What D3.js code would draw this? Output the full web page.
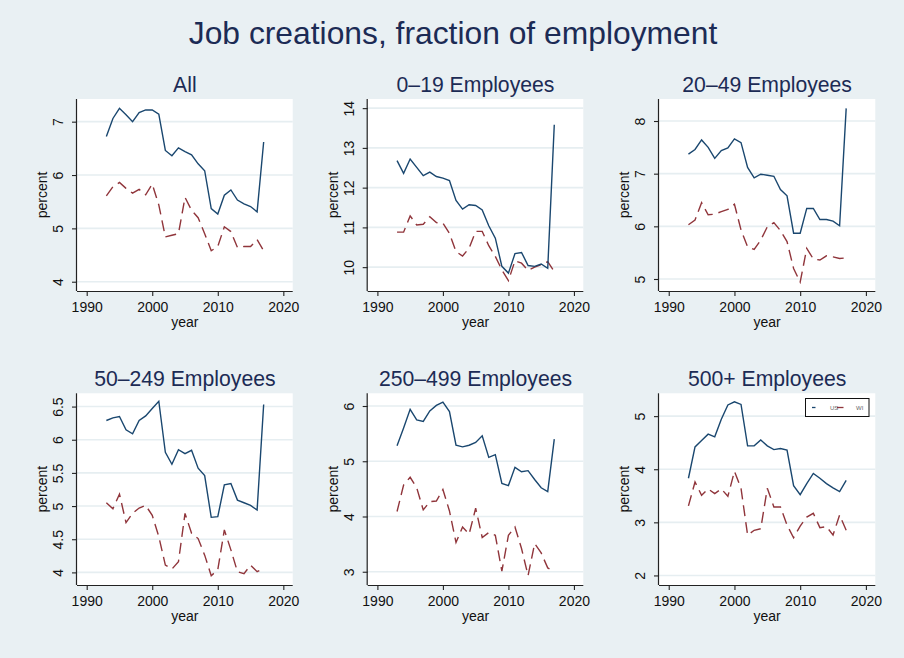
<!DOCTYPE html>
<html>
<head>
<meta charset="utf-8">
<script src="https://cdn.jsdelivr.net/npm/d3@7"></script>
<style>
  html, body { margin: 0; padding: 0; background: #e9f0f3; }
  svg { display: block; font-family: "Liberation Sans", Arial, Helvetica, sans-serif; }
</style>
</head>
<body>
<svg id="chart" width="904" height="658"></svg>
<script>
// ---------------- DATA ----------------
const chartTitle = "Job creations, fraction of employment";
const panelTitles = ["All", "0\u201319 Employees", "20\u201349 Employees", "50\u2013249 Employees", "250\u2013499 Employees", "500+ Employees"];
const seriesNames = ["US", "WI"];
const years = [1993,1994,1995,1996,1997,1998,1999,2000,2001,2002,2003,2004,2005,2006,2007,2008,2009,2010,2011,2012,2013,2014,2015,2016,2017];

const usAll  = [6.72,7.06,7.25,7.13,7.00,7.17,7.22,7.22,7.14,6.46,6.36,6.51,6.44,6.38,6.21,6.08,5.37,5.27,5.62,5.72,5.53,5.46,5.41,5.31,6.62];
const wiAll  = [5.61,5.78,5.86,5.75,5.66,5.73,5.63,5.83,5.44,4.84,4.87,4.90,5.58,5.34,5.20,4.90,4.58,4.66,5.03,4.94,4.64,4.66,4.66,4.79,4.58];

const us0_19 = [12.68,12.36,12.72,12.51,12.30,12.39,12.28,12.24,12.18,11.68,11.46,11.57,11.55,11.44,11.04,10.73,10.02,9.85,10.34,10.37,10.04,10.02,10.08,9.97,13.58];
const wi0_19 = [10.88,10.88,11.29,11.06,11.08,11.27,11.12,11.11,10.85,10.39,10.28,10.48,10.90,10.90,10.54,10.27,9.93,9.66,10.16,10.10,9.92,10.00,10.06,10.14,9.89];

const us20_49 = [7.37,7.46,7.64,7.50,7.29,7.44,7.49,7.66,7.59,7.12,6.92,6.99,6.97,6.95,6.70,6.58,5.87,5.87,6.34,6.34,6.13,6.13,6.10,6.01,8.24];
const wi20_49 = [6.03,6.12,6.45,6.22,6.23,6.28,6.32,6.42,5.93,5.61,5.56,5.74,5.99,6.07,5.92,5.71,5.20,4.94,5.58,5.38,5.36,5.44,5.42,5.39,5.40];

const us50_249 = [6.29,6.33,6.35,6.15,6.09,6.29,6.36,6.47,6.58,5.81,5.63,5.85,5.79,5.84,5.57,5.46,4.83,4.84,5.32,5.34,5.09,5.05,5.01,4.94,6.53];
const wi50_249 = [5.05,4.96,5.18,4.75,4.89,4.97,5.01,4.86,4.54,4.11,4.05,4.16,4.89,4.59,4.51,4.26,3.95,4.04,4.64,4.34,4.01,3.98,4.11,4.01,4.06];

const us250_499 = [5.28,5.60,5.94,5.75,5.72,5.91,6.01,6.07,5.90,5.29,5.26,5.29,5.34,5.46,5.07,5.12,4.60,4.56,4.89,4.81,4.83,4.67,4.52,4.45,5.40];
const wi250_499 = [4.09,4.57,4.71,4.52,4.12,4.27,4.28,4.49,4.10,3.53,3.81,3.68,4.15,3.62,3.71,3.66,3.01,3.66,3.81,3.42,2.93,3.51,3.34,3.07,3.01];

const us500 = [3.83,4.42,4.54,4.66,4.61,4.94,5.21,5.27,5.22,4.44,4.44,4.55,4.44,4.37,4.39,4.36,3.69,3.52,3.73,3.92,3.83,3.73,3.65,3.58,3.79];
const wi500 = [3.31,3.76,3.51,3.63,3.54,3.63,3.49,3.96,3.64,2.76,2.85,2.88,3.64,3.29,3.29,2.95,2.71,2.93,3.10,3.17,2.90,2.92,2.76,3.14,2.85];

const xTicks = [1990, 2000, 2010, 2020];
const yTicksAll = [4, 5, 6, 7];
const yTicks0_19 = [10, 11, 12, 13, 14];
const yTicks20_49 = [5, 6, 7, 8];
const yTicks50_249 = [4, 4.5, 5, 5.5, 6, 6.5];
const yTicks250_499 = [3, 4, 5, 6];
const yTicks500 = [2, 3, 4, 5];

// ---------------- LAYOUT / STYLE ----------------
const colUS = "#1a476f";
const colWI = "#90353b";
const bg = "#e9f0f3";
const gridCol = "#e6eef1";
const titleCol = "#1c2b55";
const xDomain = [1988.52, 2021.43];

const panels = [
  {title: panelTitles[0], us: usAll,     wi: wiAll,     ticks: yTicksAll,     yDom: [3.826, 7.425], x0: 77,    x1: 292.7, y0: 99,    y1: 291},
  {title: panelTitles[1], us: us0_19,    wi: wi0_19,    ticks: yTicks0_19,    yDom: [9.40, 14.23],  x0: 367.7, x1: 583.3, y0: 99,    y1: 291},
  {title: panelTitles[2], us: us20_49,   wi: wi20_49,   ticks: yTicks20_49,   yDom: [4.772, 8.418], x0: 659,   x1: 875.3, y0: 99,    y1: 291},
  {title: panelTitles[3], us: us50_249,  wi: wi50_249,  ticks: yTicks50_249,  yDom: [3.81, 6.70],   x0: 77,    x1: 292.7, y0: 393.3, y1: 585},
  {title: panelTitles[4], us: us250_499, wi: wi250_499, ticks: yTicks250_499, yDom: [2.76, 6.23],   x0: 367.7, x1: 583.3, y0: 393.3, y1: 585},
  {title: panelTitles[5], us: us500,     wi: wi500,     ticks: yTicks500,     yDom: [1.82, 5.43],   x0: 659,   x1: 875.3, y0: 393.3, y1: 585, legend: true}
];

const svg = d3.select("#chart");
svg.append("rect").attr("width", 904).attr("height", 658).attr("fill", bg);

svg.append("text")
  .attr("x", 453).attr("y", 44)
  .attr("text-anchor", "middle")
  .attr("font-size", 31.8)
  .attr("fill", titleCol)
  .text(chartTitle);

panels.forEach(p => {
  const g = svg.append("g");
  const x = d3.scaleLinear().domain(xDomain).range([p.x0, p.x1]);
  const y = d3.scaleLinear().domain(p.yDom).range([p.y1, p.y0]);

  // plot region
  g.append("rect")
    .attr("x", p.x0).attr("y", p.y0)
    .attr("width", p.x1 - p.x0).attr("height", p.y1 - p.y0)
    .attr("fill", "#ffffff");

  // gridlines
  g.selectAll("line.grid").data(p.ticks).enter().append("line")
    .attr("x1", p.x0).attr("x2", p.x1)
    .attr("y1", d => y(d)).attr("y2", d => y(d))
    .attr("stroke", gridCol).attr("stroke-width", 1.6);

  // subtitle
  g.append("text")
    .attr("x", (p.x0 + p.x1) / 2).attr("y", p.y0 - 7.5)
    .attr("text-anchor", "middle")
    .attr("font-size", 21.2)
    .attr("fill", titleCol)
    .text(p.title);

  // x axis
  const xAxis = d3.axisBottom(x).tickValues(xTicks).tickFormat(d3.format("d")).tickSize(5).tickPadding(4);
  const gx = g.append("g").attr("transform", `translate(0,${p.y1})`).call(xAxis);
  gx.select(".domain").attr("d", `M${p.x0},0.5H${p.x1}`).attr("stroke", "#222").attr("stroke-width", 1.2);
  gx.selectAll(".tick line").attr("stroke", "#222").attr("stroke-width", 1.1);
  gx.selectAll(".tick text").attr("font-size", 14).attr("fill", "#111")
    .attr("font-family", "'Liberation Sans', Arial, sans-serif").attr("dy", null).attr("y", 20.5);

  // y axis
  const yAxis = d3.axisLeft(y).tickValues(p.ticks).tickFormat(d => d3.format("")(d)).tickSize(5).tickPadding(4);
  const gy = g.append("g").attr("transform", `translate(${p.x0},0)`).call(yAxis);
  gy.select(".domain").attr("d", `M-0.5,${p.y0}V${p.y1}`).attr("stroke", "#222").attr("stroke-width", 1.2);
  gy.selectAll(".tick line").attr("stroke", "#222").attr("stroke-width", 1.1);
  gy.selectAll(".tick text")
    .attr("font-size", 14).attr("fill", "#111")
    .attr("font-family", "'Liberation Sans', Arial, sans-serif")
    .attr("x", null).attr("dy", null)
    .attr("text-anchor", "middle")
    .attr("transform", "translate(-13.7,0) rotate(-90)")
    .attr("y", 0);

  // axis titles
  g.append("text")
    .attr("x", (p.x0 + p.x1) / 2).attr("y", p.y1 + 36)
    .attr("text-anchor", "middle").attr("font-size", 14).attr("fill", "#111")
    .text("year");
  g.append("text")
    .attr("transform", `translate(${p.x0 - 30},${(p.y0 + p.y1) / 2}) rotate(-90)`)
    .attr("text-anchor", "middle").attr("font-size", 14).attr("fill", "#111")
    .text("percent");

  // lines
  const line = d3.line().x((d, i) => x(years[i])).y(d => y(d));
  g.append("path").datum(p.wi)
    .attr("d", line).attr("fill", "none")
    .attr("stroke", colWI).attr("stroke-width", 1.4)
    .attr("stroke-dasharray", "11,6");
  g.append("path").datum(p.us)
    .attr("d", line).attr("fill", "none")
    .attr("stroke", colUS).attr("stroke-width", 1.4);

  if (p.legend) {
    const lg = g.append("g");
    lg.append("rect").attr("x", 805.5).attr("y", 398.5).attr("width", 63.5).attr("height", 18)
      .attr("fill", "#fff").attr("stroke", "#111").attr("stroke-width", 1);
    lg.append("line").attr("x1", 812).attr("x2", 815.5).attr("y1", 407.5).attr("y2", 407.5)
      .attr("stroke", colUS).attr("stroke-width", 1.3);
    lg.append("text").attr("x", 830).attr("y", 409.5).attr("font-size", 6).attr("fill", "#666").text(seriesNames[0]);
    lg.append("line").attr("x1", 837).attr("x2", 843.5).attr("y1", 407.5).attr("y2", 407.5)
      .attr("stroke", colWI).attr("stroke-width", 1.3);
    lg.append("text").attr("x", 856).attr("y", 409.5).attr("font-size", 6).attr("fill", "#666").text(seriesNames[1]);
  }
});
</script>
</body>
</html>
